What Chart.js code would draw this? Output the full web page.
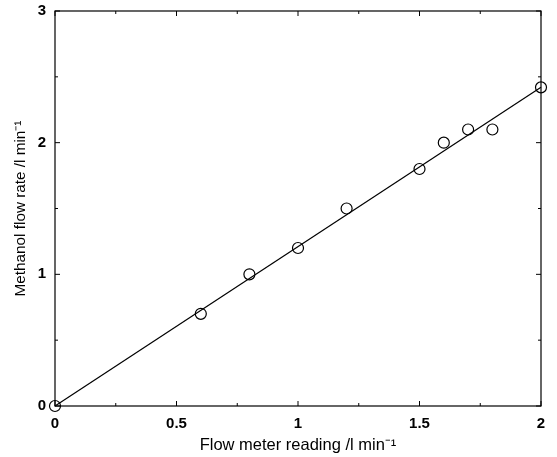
<!DOCTYPE html>
<html>
<head>
<meta charset="utf-8">
<script src="https://cdn.jsdelivr.net/npm/chart.js@4"></script>
<style>
html,body{margin:0;padding:0;background:#fff;}
#wrap{width:557px;height:457px;}
</style>
</head>
<body>
<div id="wrap"><canvas id="c" width="557" height="457"></canvas></div>
<script>
// Data
const flowMeter = [0, 0.6, 0.8, 1.0, 1.2, 1.5, 1.6, 1.7, 1.8, 2.0];
const methanolFlow = [0, 0.7, 1.0, 1.2, 1.5, 1.8, 2.0, 2.1, 2.1, 2.42];
const fitX = [0, 2];
const fitY = [0, 2.42];
const xTicks = [0, 0.5, 1, 1.5, 2];
const yTicks = [0, 1, 2, 3];
const xMinorTicks = [0.25, 0.75, 1.25, 1.75];
const yMinorTicks = [0.5, 1.5, 2.5];
const xTitle = 'Flow meter reading /l min\u207B\u00B9';
const yTitle = 'Methanol flow rate /l min\u207B\u00B9';

const FONT = '"Liberation Sans", Arial, Helvetica, sans-serif';

const frame = {
  id: 'frame',
  beforeDatasetsDraw(chart) {
    const {ctx, chartArea: a, scales: {x, y}} = chart;
    ctx.save();
    ctx.strokeStyle = '#000';
    ctx.lineWidth = 1.2;
    ctx.strokeRect(a.left, a.top, a.right - a.left, a.bottom - a.top);
    ctx.lineWidth = 1;
    ctx.beginPath();
    const tick = (vals, len) => {
      vals.forEach(v => {
        const px = x.getPixelForValue(v);
        ctx.moveTo(px, a.bottom); ctx.lineTo(px, a.bottom - len);
        ctx.moveTo(px, a.top); ctx.lineTo(px, a.top + len);
      });
    };
    const tickY = (vals, len) => {
      vals.forEach(v => {
        const py = y.getPixelForValue(v);
        ctx.moveTo(a.left, py); ctx.lineTo(a.left + len, py);
        ctx.moveTo(a.right, py); ctx.lineTo(a.right - len, py);
      });
    };
    tick(xTicks, 5); tick(xMinorTicks, 3);
    tickY(yTicks, 5); tickY(yMinorTicks, 3);
    ctx.stroke();
    ctx.restore();
  }
};

new Chart(document.getElementById('c'), {
  type: 'scatter',
  data: {
    datasets: [
      {
        type: 'line',
        data: fitX.map((v, i) => ({x: v, y: fitY[i]})),
        borderColor: '#000',
        borderWidth: 1.2,
        pointRadius: 0,
        fill: false,
        clip: false,
        order: 2
      },
      {
        data: flowMeter.map((v, i) => ({x: v, y: methanolFlow[i]})),
        pointStyle: 'circle',
        pointRadius: 5.5,
        pointBorderWidth: 1.2,
        pointBorderColor: '#000',
        pointBackgroundColor: 'rgba(0,0,0,0)',
        clip: false,
        order: 1
      }
    ]
  },
  options: {
    responsive: false,
    animation: false,
    devicePixelRatio: 1,
    layout: {padding: {left: 0, right: 16, top: 11, bottom: 0}},
    plugins: {legend: {display: false}, tooltip: {enabled: false}},
    scales: {
      x: {
        type: 'linear', min: 0, max: 2,
        afterBuildTicks: s => { s.ticks = xTicks.map(v => ({value: v})); },
        afterFit: s => { s.height = 51; s.paddingLeft = 0; s.paddingRight = 0; },
        grid: {display: false, drawTicks: false},
        border: {display: false},
        ticks: {
          padding: 9,
          color: '#000',
          font: {family: FONT, size: 15, weight: 'bold'},
          callback: v => String(v)
        },
        title: {display: true, text: xTitle, color: '#000',
          font: {family: FONT, size: 16.5}, padding: {top: 0, bottom: 2}}
      },
      y: {
        type: 'linear', min: 0, max: 3,
        afterBuildTicks: s => { s.ticks = yTicks.map(v => ({value: v})); },
        afterFit: s => { s.width = 55; s.paddingTop = 0; s.paddingBottom = 0; },
        grid: {display: false, drawTicks: false},
        border: {display: false},
        ticks: {
          padding: 9,
          color: '#000',
          font: {family: FONT, size: 15, weight: 'bold'},
          callback: v => String(v)
        },
        title: {display: true, text: yTitle, color: '#000',
          font: {family: FONT, size: 15.3}, padding: {top: 12, bottom: 0}}
      }
    }
  },
  plugins: [frame]
});
</script>
</body>
</html>
